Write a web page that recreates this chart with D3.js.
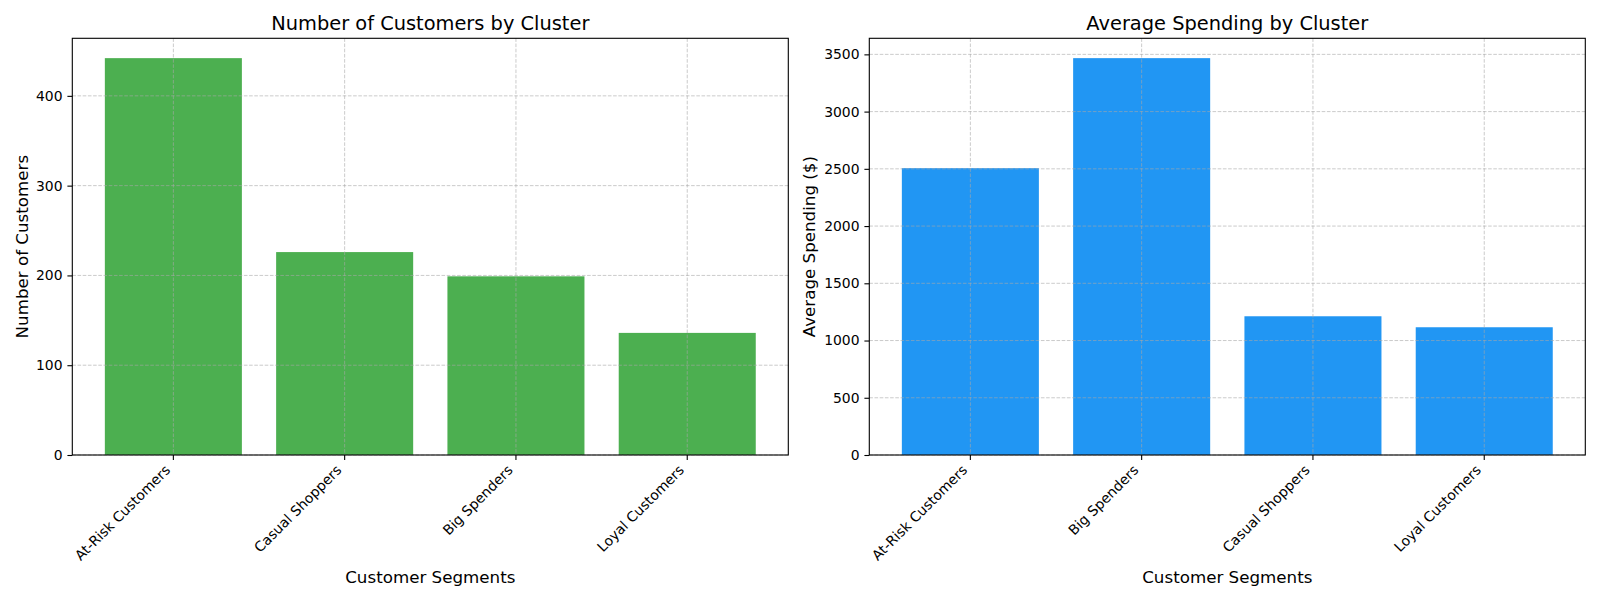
<!DOCTYPE html>
<html>
<head>
<meta charset="utf-8">
<script src="https://cdn.jsdelivr.net/npm/d3@7"></script>
<style>
  body { margin: 0; background: #fff; }
  svg { font-family: "DejaVu Sans", sans-serif; }
</style>
</head>
<body>
<div id="chart"></div>
<script>
// Data
const countSegments = ["At-Risk Customers", "Casual Shoppers", "Big Spenders", "Loyal Customers"];
const countValues = [442, 226, 199, 136];
const countTicks = [0, 100, 200, 300, 400];

const spendSegments = ["At-Risk Customers", "Big Spenders", "Casual Shoppers", "Loyal Customers"];
const spendValues = [2506, 3467, 1212, 1116];
const spendTicks = [0, 500, 1000, 1500, 2000, 2500, 3000, 3500];

const svg = d3
  .select("#chart")
  .append("svg")
  .attr("width", 1600)
  .attr("height", 600);

function drawPanel(opts) {
  const left = opts.left, right = opts.left + 716;
  const top = 38.3, bottom = 455;

  const xScale = d3
    .scaleBand()
    .domain(opts.cats)
    .range([left, right])
    .paddingInner(0.2)
    .paddingOuter(0.19);

  const yScale = d3
    .scaleLinear()
    .domain([0, d3.max(opts.values) * 1.05])
    .range([bottom, top]);

  const g = svg.append("g");

  // Bars
  g.selectAll("rect.bar")
    .data(opts.values)
    .join("rect")
    .attr("class", "bar")
    .attr("x", (d, i) => xScale(opts.cats[i]))
    .attr("y", (d) => yScale(d))
    .attr("width", xScale.bandwidth())
    .attr("height", (d) => bottom - yScale(d))
    .attr("fill", opts.color);

  // Grid (drawn over bars, like matplotlib)
  const gridStyle = (sel) =>
    sel
      .attr("stroke", "#a8a8a8")
      .attr("stroke-opacity", 0.75)
      .attr("stroke-width", 0.8)
      .attr("stroke-dasharray", "3.6,1.6");

  g.selectAll("line.hgrid")
    .data(opts.ticks)
    .join("line")
    .attr("x1", left)
    .attr("x2", right)
    .attr("y1", (d) => yScale(d))
    .attr("y2", (d) => yScale(d))
    .call(gridStyle);

  g.selectAll("line.vgrid")
    .data(opts.cats)
    .join("line")
    .attr("x1", (d) => xScale(d) + xScale.bandwidth() / 2)
    .attr("x2", (d) => xScale(d) + xScale.bandwidth() / 2)
    .attr("y1", top)
    .attr("y2", bottom)
    .call(gridStyle);

  // Axes
  const yAxis = d3
    .axisLeft(yScale)
    .tickValues(opts.ticks)
    .tickFormat(d3.format("d"))
    .tickSize(4.9)
    .tickPadding(4.9)
    .tickSizeOuter(0);
  const yAxisG = g
    .append("g")
    .attr("transform", `translate(${left},0)`)
    .call(yAxis);
  yAxisG.select(".domain").remove();
  yAxisG.selectAll("line").attr("stroke", "#000").attr("stroke-width", 1.1);
  yAxisG.selectAll("text")
    .attr("font-size", 13.9)
    .attr("font-family", "DejaVu Sans")
    .attr("fill", "#000");

  const xAxis = d3
    .axisBottom(xScale)
    .tickSize(4.9)
    .tickSizeOuter(0)
    .tickFormat("");
  const xAxisG = g
    .append("g")
    .attr("transform", `translate(0,${bottom})`)
    .call(xAxis);
  xAxisG.select(".domain").remove();
  xAxisG.selectAll("line").attr("stroke", "#000").attr("stroke-width", 1.1);

  // Rotated category labels
  g.selectAll("text.xlab")
    .data(opts.cats)
    .join("text")
    .attr("class", "xlab")
    .attr("text-anchor", "end")
    .attr("font-size", 13.9)
    .attr("transform", (d) => {
      const cx = xScale(d) + xScale.bandwidth() / 2;
      return `translate(${cx - 2.3},${471}) rotate(-45)`;
    })
    .text((d) => d);

  // Frame
  g.append("rect")
    .attr("x", left)
    .attr("y", top)
    .attr("width", right - left)
    .attr("height", bottom - top)
    .attr("fill", "none")
    .attr("stroke", "#000")
    .attr("stroke-width", 1.1);

  // Title and labels
  g.append("text")
    .attr("x", (left + right) / 2)
    .attr("y", 30)
    .attr("text-anchor", "middle")
    .attr("font-size", 19.4)
    .text(opts.title);

  g.append("text")
    .attr("x", (left + right) / 2)
    .attr("y", 583)
    .attr("text-anchor", "middle")
    .attr("font-size", 16.7)
    .text("Customer Segments");

  g.append("text")
    .attr("transform", `translate(${opts.ylabelX},${(top + bottom) / 2}) rotate(-90)`)
    .attr("text-anchor", "middle")
    .attr("dominant-baseline", "central")
    .attr("font-size", 16.7)
    .text(opts.ylabel);
}

drawPanel({
  left: 72.3,
  cats: countSegments,
  values: countValues,
  ticks: countTicks,
  color: "#4CAF50",
  title: "Number of Customers by Cluster",
  ylabel: "Number of Customers",
  ylabelX: 21.5,
});

drawPanel({
  left: 869.3,
  cats: spendSegments,
  values: spendValues,
  ticks: spendTicks,
  color: "#2196F3",
  title: "Average Spending by Cluster",
  ylabel: "Average Spending ($)",
  ylabelX: 809,
});
</script>
</body>
</html>
